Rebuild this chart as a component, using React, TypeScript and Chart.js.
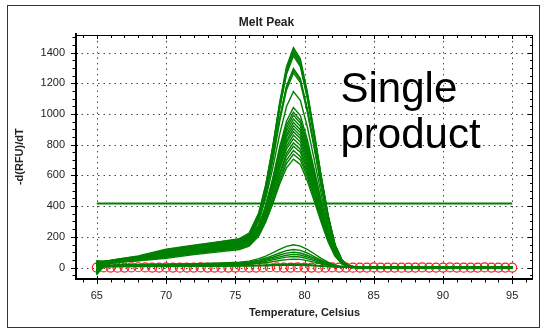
import React, { useEffect, useRef } from 'react';
import { Chart, registerables } from 'chart.js';

Chart.register(...registerables);

// Temperatures (°C) at which each melt-derivative curve is sampled
const TEMPS = [65, 65.5, 66.5, 68, 70, 72, 74, 75.3, 76, 76.7, 77.2, 77.7, 78.2, 78.7, 79.2, 79.7, 80.2, 80.7, 81.2, 81.7, 82.2, 82.7, 83.2, 84, 88, 95];

// Tall melt peaks (~1270-1430)
const HIGH_PEAK_CURVES = [
  [-35, 20, 50, 70, 110, 140, 165, 182, 215, 351, 538, 786, 1072, 1308, 1432, 1360, 1146, 881, 601, 344, 150, 50, 10, 0, 0, 0],
  [25, 38, 52, 66, 102, 128, 152, 166, 198, 337, 523, 772, 1058, 1294, 1418, 1347, 1134, 872, 596, 340, 149, 50, 10, 2, 0, 0],
  [-20, 35, 55, 75, 120, 145, 170, 188, 225, 357, 537, 778, 1056, 1285, 1405, 1335, 1124, 864, 590, 337, 148, 49, 10, -2, 0, 0],
  [40, 42, 50, 60, 94, 118, 142, 156, 188, 325, 509, 754, 1036, 1269, 1392, 1322, 1114, 856, 585, 334, 146, 49, 10, 0, 1, 0],
  [10, 30, 50, 68, 108, 135, 160, 176, 208, 340, 519, 758, 1032, 1259, 1378, 1309, 1102, 847, 579, 331, 145, 48, 10, 0, 0, 0],
  [-10, 28, 45, 62, 98, 122, 148, 162, 192, 316, 485, 710, 969, 1183, 1296, 1231, 1037, 797, 544, 311, 136, 45, 9, 0, 0, 0],
  [30, 40, 55, 72, 115, 142, 168, 184, 218, 337, 500, 718, 968, 1175, 1284, 1220, 1027, 790, 539, 308, 135, 45, 9, 1, 0, 0],
  [-25, 22, 44, 58, 90, 114, 138, 152, 182, 304, 470, 692, 947, 1157, 1268, 1205, 1014, 780, 533, 304, 133, 44, 9, 0, 0, 0],
];

// Medium melt peaks (~700-1150)
const MID_PEAK_CURVES = [
  [-40, 15, 48, 65, 105, 132, 157, 172, 202, 306, 450, 644, 866, 1049, 1146, 1089, 917, 705, 481, 275, 120, 40, 8, 0, 0, 0],
  [-45, 10, 40, 54, 82, 106, 128, 142, 168, 266, 400, 578, 783, 953, 1042, 990, 834, 641, 438, 250, 109, 36, 7, 0, 0, 0],
  [15, 32, 46, 63, 96, 120, 146, 162, 190, 279, 406, 574, 768, 928, 1012, 961, 810, 622, 425, 243, 106, 35, 7, 0, 0, 0],
  [-15, 25, 38, 50, 74, 98, 119, 133, 158, 251, 379, 549, 745, 907, 992, 942, 794, 610, 417, 238, 104, 35, 7, 0, 0, 0],
  [5, 28, 43, 57, 88, 112, 136, 152, 180, 265, 386, 548, 734, 887, 968, 920, 774, 595, 407, 232, 102, 34, 7, 0, 0, 0],
  [35, 36, 42, 54, 84, 107, 129, 143, 168, 253, 373, 532, 714, 866, 945, 898, 756, 581, 397, 227, 99, 33, 7, 0, 0, 0],
  [-30, 18, 47, 64, 100, 127, 151, 166, 195, 273, 385, 535, 708, 850, 925, 879, 740, 569, 389, 222, 97, 32, 6, 0, 0, 0],
  [20, 30, 38, 48, 70, 94, 114, 128, 152, 235, 351, 505, 682, 828, 905, 860, 724, 557, 380, 217, 95, 32, 6, 0, 0, 0],
  [5, 30, 42, 56, 86, 110, 133, 147, 174, 250, 359, 505, 673, 812, 885, 841, 708, 544, 372, 212, 93, 31, 6, 0, 0, 0],
  [-20, 24, 40, 52, 78, 102, 124, 138, 163, 238, 346, 489, 654, 790, 862, 819, 690, 530, 362, 207, 91, 30, 6, 0, 0, 0],
  [45, 42, 50, 60, 94, 118, 142, 157, 184, 252, 353, 488, 643, 771, 838, 796, 670, 515, 352, 201, 88, 29, 6, 0, 0, 0],
  [-30, 18, 35, 46, 66, 90, 110, 123, 146, 219, 321, 457, 614, 744, 812, 771, 650, 499, 341, 195, 85, 28, 6, 0, 0, 0],
  [10, 28, 41, 54, 82, 106, 128, 142, 168, 233, 329, 457, 604, 726, 790, 751, 632, 486, 332, 190, 83, 28, 6, 0, 0, 0],
  [-5, 26, 38, 50, 74, 98, 119, 133, 157, 221, 314, 439, 582, 700, 762, 724, 610, 469, 320, 183, 80, 27, 5, 0, 0, 0],
  [15, 26, 34, 44, 60, 84, 104, 118, 140, 205, 297, 419, 560, 677, 738, 701, 590, 454, 310, 177, 77, 26, 5, 0, 0, 0],
  [-35, 15, 38, 52, 78, 102, 124, 138, 162, 218, 302, 414, 543, 650, 706, 671, 565, 434, 297, 169, 74, 25, 5, 0, 0, 0],
];

// Low / no-product curves (small bumps near 79 °C)
const LOW_PEAK_CURVES = [
  [-30, 10, 18, 20, 22, 25, 30, 35, 42, 58, 75, 95, 118, 138, 148, 140, 118, 90, 60, 35, 16, 6, 2, 0, 0, 0],
  [20, 15, 14, 16, 18, 22, 26, 30, 36, 48, 62, 78, 95, 110, 118, 112, 95, 72, 48, 28, 13, 5, 2, 0, 0, 0],
  [-10, 8, 12, 14, 16, 19, 23, 27, 32, 42, 54, 67, 82, 94, 100, 95, 80, 61, 41, 24, 11, 4, 1, 0, 0, 0],
  [5, 12, 13, 14, 15, 18, 21, 24, 29, 37, 47, 58, 70, 80, 86, 82, 69, 53, 36, 21, 10, 4, 1, 0, 0, 0],
  [-40, 5, 10, 12, 14, 16, 19, 22, 26, 32, 40, 50, 60, 68, 72, 69, 58, 45, 30, 18, 8, 3, 1, 0, 0, 0],
  [30, 10, 9, 10, 12, 14, 16, 18, 21, 26, 32, 39, 46, 52, 55, 53, 45, 35, 24, 14, 7, 3, 1, 0, 0, 0],
  [-20, 5, 8, 8, 9, 10, 11, 12, 14, 15, 17, 19, 21, 22, 23, 22, 20, 16, 12, 8, 5, 3, 1, 0, 0, 0],
  [10, 6, 5, 6, 7, 8, 9, 10, 10, 11, 12, 13, 14, 14, 15, 14, 13, 11, 9, 6, 4, 2, 1, 0, 0, 0],
];

// Negative control (red circles)
const NTC_TEMPS = [65, 65.5, 66, 66.5, 67, 67.5, 68, 68.5, 69, 69.5, 70, 70.5, 71, 71.5, 72, 72.5, 73, 73.5, 74, 74.5, 75, 75.5, 76, 76.5, 77, 77.5, 78, 78.5, 79, 79.5, 80, 80.5, 81, 81.5, 82, 82.5, 83, 83.5, 84, 84.5, 85, 85.5, 86, 86.5, 87, 87.5, 88, 88.5, 89, 89.5, 90, 90.5, 91, 91.5, 92, 92.5, 93, 93.5, 94, 94.5, 95];
const NTC_VALUES = [0, 1, 0, -1, 0, 1, 2, 1, 0, 0, 1, 0, -1, 0, 0, 1, 0, 0, -1, 0, 0, 1, 0, 0, 1, 2, 1, 0, 0, 1, 0, 0, -1, 0, 1, 0, 0, -1, 0, 0, 1, 0, 0, 0, -1, 0, 0, 1, 0, 0, 0, 1, 0, -1, 0, 0, 1, 0, 0, 0, 0];

// Melt peak threshold
const THRESHOLD_TEMPS = [65, 95];
const THRESHOLD_VALUE = 418;

// Axis ranges and ticks
const X_RANGE = [63.5, 96.5];
const Y_RANGE = [-68, 1512];
const X_TICKS = [65, 70, 75, 80, 85, 90, 95];
const Y_TICKS = [0, 200, 400, 600, 800, 1000, 1200, 1400];
const X_MINOR = 1;
const Y_MINOR = 50;

const TITLE = 'Melt Peak';
const X_TITLE = 'Temperature, Celsius';
const Y_TITLE = '-d(RFU)/dT';
const NOTE_LINES = ['Single', 'product'];
const NOTE_ANCHOR = { x: 82.6, y: [1078, 776] };

const FONT = "'Liberation Sans', Arial, Helvetica, sans-serif";
const GREEN = '#008000';

const decorPlugin = {
  id: 'decor',
  beforeDatasetsDraw(chart: any) {
    const { ctx, chartArea: a, scales } = chart;
    const x = scales.x, y = scales.y;
    ctx.save();
    ctx.strokeStyle = '#444';
    ctx.lineWidth = 1;
    ctx.setLineDash([1.5, 4]);
    X_TICKS.forEach((v) => {
      const px = Math.round(x.getPixelForValue(v)) + 0.5;
      ctx.beginPath(); ctx.moveTo(px, a.top); ctx.lineTo(px, a.bottom); ctx.stroke();
    });
    Y_TICKS.forEach((v) => {
      const py = Math.round(y.getPixelForValue(v)) + 0.5;
      ctx.beginPath(); ctx.moveTo(a.left, py); ctx.lineTo(a.right, py); ctx.stroke();
    });
    ctx.restore();
  },
  afterDatasetsDraw(chart: any) {
    const { ctx, chartArea: a, scales } = chart;
    const x = scales.x, y = scales.y;
    const L = Math.round(a.left), R = Math.round(a.right), T = Math.round(a.top), B = Math.round(a.bottom);
    ctx.save();
    ctx.setLineDash([]);
    ctx.lineWidth = 1;
    ctx.strokeStyle = '#333';
    ctx.strokeRect(7.5, 5.5, 532, 322);
    ctx.strokeStyle = '#000';
    ctx.beginPath(); ctx.moveTo(L, T + 0.5); ctx.lineTo(R, T + 0.5); ctx.stroke();
    ctx.beginPath(); ctx.moveTo(R - 0.5, T); ctx.lineTo(R - 0.5, B); ctx.stroke();
    ctx.lineWidth = 2;
    ctx.beginPath(); ctx.moveTo(L, T - 2); ctx.lineTo(L, B + 1); ctx.lineTo(R, B + 1); ctx.stroke();
    ctx.lineWidth = 1;
    for (let v = Math.ceil(X_RANGE[0]); v <= X_RANGE[1]; v += X_MINOR) {
      const px = Math.round(x.getPixelForValue(v)) + 0.5;
      const major = X_TICKS.includes(v);
      ctx.beginPath(); ctx.moveTo(px, B - (major ? 2 : 0)); ctx.lineTo(px, B + (major ? 6 : 4.5)); ctx.stroke();
      ctx.beginPath(); ctx.moveTo(px, T); ctx.lineTo(px, T + (major ? 4 : 3)); ctx.stroke();
    }
    for (let v = Math.ceil(Y_RANGE[0] / Y_MINOR) * Y_MINOR; v <= Y_RANGE[1]; v += Y_MINOR) {
      const py = Math.round(y.getPixelForValue(v)) + 0.5;
      const major = Y_TICKS.includes(v);
      ctx.beginPath(); ctx.moveTo(L - (major ? 5 : 3.5), py); ctx.lineTo(L + (major ? 2 : 0), py); ctx.stroke();
      ctx.beginPath(); ctx.moveTo(R - (major ? 5 : 3), py); ctx.lineTo(R, py); ctx.stroke();
    }
    ctx.restore();
  },
  afterDraw(chart: any) {
    const { ctx, scales } = chart;
    ctx.save();
    ctx.fillStyle = '#000';
    ctx.font = `42px ${FONT}`;
    ctx.textBaseline = 'alphabetic';
    ctx.textAlign = 'left';
    NOTE_LINES.forEach((line, i) => {
      ctx.fillText(line, scales.x.getPixelForValue(NOTE_ANCHOR.x), scales.y.getPixelForValue(NOTE_ANCHOR.y[i]));
    });
    ctx.restore();
  },
};

function curveDataset(ys: number[], width: number) {
  return {
    data: TEMPS.map((t, i) => ({ x: t, y: ys[i] })),
    showLine: true,
    borderColor: GREEN,
    borderWidth: width,
    borderCapStyle: 'round',
    pointRadius: 0,
    tension: 0,
    fill: false,
  };
}

export default function App() {
  const ref = useRef<HTMLCanvasElement | null>(null);

  useEffect(() => {
    if (!ref.current) return;
    const datasets: any[] = [];
    datasets.push({
      data: THRESHOLD_TEMPS.map((t) => ({ x: t, y: THRESHOLD_VALUE })),
      showLine: true,
      borderColor: GREEN,
      borderWidth: 2,
      pointRadius: 0,
    });
    HIGH_PEAK_CURVES.forEach((c) => datasets.push(curveDataset(c, 1.4)));
    MID_PEAK_CURVES.forEach((c) => datasets.push(curveDataset(c, 1.4)));
    LOW_PEAK_CURVES.forEach((c) => datasets.push(curveDataset(c, 1.4)));
    datasets.push({
      data: NTC_TEMPS.map((t, i) => ({ x: t, y: NTC_VALUES[i] })),
      showLine: false,
      pointStyle: 'circle',
      pointRadius: 4.5,
      pointBorderWidth: 1.2,
      pointBorderColor: '#ff1a1a',
      pointBackgroundColor: 'rgba(0,0,0,0)',
    });

    const setTicks = (list: number[]) => (s: any) => { s.ticks = list.map((v) => ({ value: v })); };
    const plain = (v: any) => String(v);

    const chart = new Chart(ref.current, {
      type: 'scatter',
      data: { datasets },
      options: {
        responsive: false,
        animation: false,
        devicePixelRatio: 1,
        layout: { padding: { left: 0, right: 11, top: 0, bottom: 0 } },
        plugins: {
          legend: { display: false },
          tooltip: { enabled: false },
          title: {
            display: true,
            text: TITLE,
            color: '#222',
            font: { family: FONT, size: 12, weight: 'bold' },
            padding: { top: 15, bottom: 6 },
          },
        },
        scales: {
          x: {
            type: 'linear',
            min: X_RANGE[0],
            max: X_RANGE[1],
            grid: { display: false, drawTicks: false },
            border: { display: false },
            afterBuildTicks: setTicks(X_TICKS),
            ticks: {
              autoSkip: false,
              maxRotation: 0,
              padding: 11,
              color: '#222',
              font: { family: FONT, size: 11 },
              callback: plain,
            },
            title: {
              display: true,
              text: X_TITLE,
              color: '#222',
              font: { family: FONT, size: 11, weight: 'bold' },
              padding: { top: 0, bottom: 10 },
            },
            afterFit: (s: any) => { s.height = 52; },
          },
          y: {
            type: 'linear',
            min: Y_RANGE[0],
            max: Y_RANGE[1],
            grid: { display: false, drawTicks: false },
            border: { display: false },
            afterBuildTicks: setTicks(Y_TICKS),
            ticks: {
              autoSkip: false,
              padding: 11,
              color: '#222',
              font: { family: FONT, size: 11 },
              callback: plain,
            },
            title: {
              display: true,
              text: Y_TITLE,
              color: '#222',
              font: { family: FONT, size: 11, weight: 'bold' },
              padding: { top: 13, bottom: 0 },
            },
            afterFit: (s: any) => { s.width = 76; },
          },
        },
      } as any,
      plugins: [decorPlugin],
    });
    return () => chart.destroy();
  }, []);

  return (
    <div style={{ position: 'absolute', left: 0, top: 0, width: 544, height: 330, background: '#fff' }}>
      <canvas ref={ref} width={544} height={330} style={{ display: 'block', width: 544, height: 330 }} />
    </div>
  );
}
